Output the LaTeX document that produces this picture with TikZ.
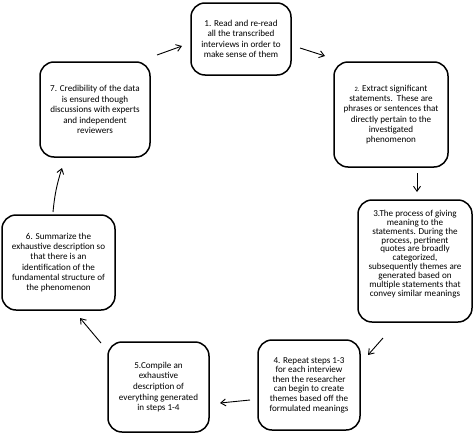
\documentclass[tikz,border=0pt]{standalone}
\usepackage{fontspec}
\setmainfont{Carlito}
\usetikzlibrary{arrows.meta}
\tikzset{
  stepbox/.style={draw=black, line width=1.5pt, rounded corners=14pt, align=center, inner sep=2pt},
  flow/.style={-{Straight Barb[length=5pt,width=7pt]}, line width=0.9pt},
  fsz/.style={font=\fontsize{9.1}{#1}\selectfont},
}
\begin{document}
\begin{tikzpicture}[x=1pt,y=-1pt]
\useasboundingbox (0,0) rectangle (474,434);
\node[stepbox, fsz=10.3, minimum width=100pt, minimum height=72pt] (b1) at (241,39)
  {1. Read and re-read\\all the transcribed\\interviews in order to\\make sense of them};
\node[stepbox, fsz=10.3, minimum width=114pt, minimum height=105pt] (b2) at (391,114.5)
  {{\fontsize{6.5}{10.3}\selectfont 2.} Extract significant\\statements.\ \ These are\\phrases or sentences that\\directly pertain to the\\investigated\\phenomenon};
\node[stepbox, minimum width=114pt, minimum height=122pt] (b3) at (415,261) {};
\node[align=center, fsz=8.9, inner sep=0pt] (t3) at (415,254)
  {3.The process of giving\\meaning to the\\statements. During the\\process, pertinent\\quotes are broadly\\categorized,\\subsequently themes are\\generated based on\\multiple statements that\\convey similar meanings};
\node[stepbox, fsz=9.6, minimum width=102pt, minimum height=90pt] (b4) at (309,385)
  {4. Repeat steps 1-3\\for each interview\\then the researcher\\can begin to create\\themes based off the\\formulated meanings};
\node[stepbox, fsz=10.7, minimum width=101pt, minimum height=90pt] (b5) at (158.5,387)
  {5.Compile an\\exhaustive\\description of\\everything generated\\in steps 1-4};
\node[stepbox, fsz=10.2, minimum width=113pt, minimum height=95pt] (b6) at (58.5,262.5)
  {6. Summarize the\\exhaustive description so\\that there is an\\identification of the\\fundamental structure of\\the phenomenon};
\node[stepbox, fsz=10.5, minimum width=110pt, minimum height=95pt] (b7) at (95,109.5)
  {7. Credibility of the data\\is ensured though\\discussions with experts\\and independent\\reviewers};
% arrow end points
\coordinate (a71) at (157,55);  \coordinate (a71e) at (182,46);
\coordinate (a12) at (300,48);  \coordinate (a12e) at (325,56);
\coordinate (a23) at (417,173); \coordinate (a23e) at (417,192);
\coordinate (a34) at (383,338); \coordinate (a34e) at (368,355);
\coordinate (a45) at (250,400); \coordinate (a45e) at (220,403);
\coordinate (a56) at (101,343); \coordinate (a56e) at (80,318);
\coordinate (a67) at (53,212);  \coordinate (a67e) at (62,168);
\draw[flow] (a71) -- (a71e);
\draw[flow] (a12) -- (a12e);
\draw[flow] (a23) -- (a23e);
\draw[flow] (a34) -- (a34e);
\draw[flow] (a45) -- (a45e);
\draw[flow] (a56) -- (a56e);
\draw[flow] (a67) to[bend left=6] (a67e);
\end{tikzpicture}
\end{document}
